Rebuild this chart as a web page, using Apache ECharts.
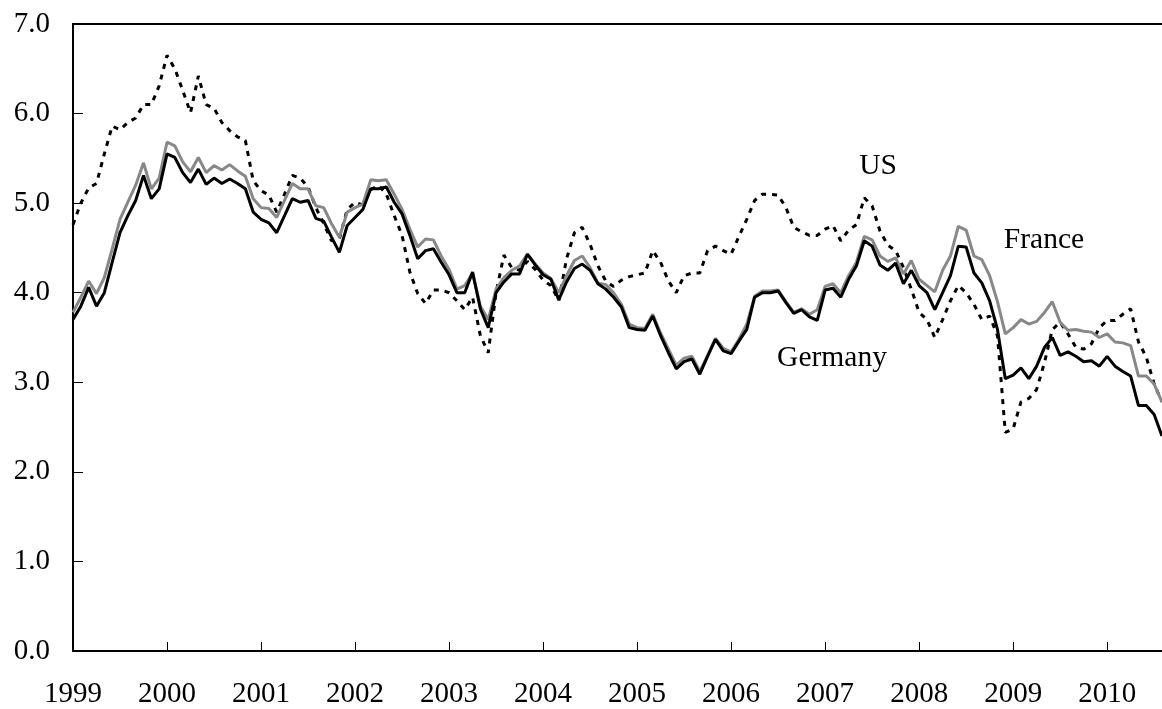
<!DOCTYPE html>
<html>
<head>
<meta charset="utf-8">
<script src="https://cdn.jsdelivr.net/npm/echarts@6/dist/echarts.min.js"></script>
<style>
html,body{margin:0;padding:0;background:#fff;}
#chart{width:1162px;height:709px;}
</style>
</head>
<body>
<div id="chart"></div>
<script>
// Monthly, Jan 1999 .. Aug 2010
var years = [1999,2000,2001,2002,2003,2004,2005,2006,2007,2008,2009,2010];
var monthsInLastYear = 8;
var months = [];
years.forEach(function(y, k){
  var n = (k === years.length - 1) ? monthsInLastYear : 12;
  for (var m = 1; m <= n; m++) months.push(y + '-' + (m < 10 ? '0' + m : m));
});

var germany = [
3.70,3.85,4.06,3.85,4.00,4.34,4.67,4.86,5.03,5.31,5.05,5.16,
5.55,5.51,5.34,5.23,5.38,5.21,5.28,5.22,5.27,5.22,5.16,4.90,
4.82,4.78,4.67,4.86,5.05,5.01,5.03,4.83,4.80,4.62,4.45,4.75,
4.84,4.93,5.16,5.16,5.18,5.01,4.88,4.64,4.38,4.47,4.49,4.34,
4.20,4.00,4.00,4.23,3.82,3.61,4.00,4.12,4.21,4.21,4.43,4.31,
4.20,4.15,3.92,4.12,4.27,4.32,4.25,4.10,4.04,3.95,3.84,3.61,
3.59,3.58,3.74,3.52,3.33,3.15,3.23,3.26,3.09,3.29,3.48,3.35,
3.32,3.46,3.59,3.95,4.00,4.00,4.02,3.89,3.77,3.81,3.73,3.69,
4.03,4.05,3.95,4.15,4.30,4.58,4.52,4.31,4.25,4.33,4.10,4.25,
4.08,4.00,3.81,4.00,4.19,4.52,4.51,4.22,4.11,3.91,3.59,3.04,
3.08,3.16,3.04,3.18,3.39,3.50,3.30,3.34,3.29,3.23,3.24,3.18,
3.29,3.18,3.12,3.07,2.74,2.74,2.64,2.40
];
var france = [
3.78,3.95,4.13,3.99,4.17,4.49,4.82,5.01,5.20,5.45,5.16,5.28,
5.68,5.64,5.46,5.35,5.51,5.34,5.42,5.37,5.43,5.36,5.30,5.05,
4.95,4.94,4.84,5.03,5.22,5.16,5.16,4.97,4.95,4.77,4.62,4.90,
4.95,4.99,5.26,5.25,5.26,5.10,4.93,4.71,4.51,4.60,4.59,4.41,
4.26,4.04,4.08,4.22,3.85,3.70,4.04,4.17,4.25,4.30,4.43,4.32,
4.22,4.16,4.00,4.19,4.36,4.41,4.28,4.11,4.09,4.00,3.87,3.65,
3.61,3.60,3.76,3.55,3.37,3.19,3.27,3.29,3.12,3.30,3.49,3.38,
3.34,3.48,3.65,3.96,4.02,4.02,4.03,3.90,3.78,3.82,3.76,3.81,
4.07,4.10,4.00,4.19,4.34,4.63,4.59,4.41,4.35,4.39,4.21,4.36,
4.15,4.08,4.01,4.25,4.41,4.74,4.70,4.41,4.37,4.19,3.90,3.54,
3.61,3.70,3.65,3.68,3.78,3.90,3.67,3.58,3.59,3.57,3.56,3.50,
3.54,3.45,3.44,3.41,3.07,3.07,2.98,2.78
];
var us = [
4.76,5.00,5.17,5.22,5.55,5.86,5.82,5.90,5.95,6.10,6.10,6.31,
6.65,6.50,6.26,6.01,6.42,6.10,6.06,5.90,5.81,5.74,5.70,5.25,
5.14,5.09,4.90,5.10,5.31,5.28,5.18,4.95,4.77,4.58,4.60,4.93,
5.01,4.98,5.15,5.20,5.10,4.86,4.64,4.23,3.99,3.88,4.03,4.03,
4.00,3.91,3.81,3.95,3.52,3.33,4.00,4.42,4.28,4.25,4.35,4.26,
4.14,4.08,3.91,4.38,4.67,4.73,4.54,4.30,4.13,4.07,4.14,4.18,
4.20,4.22,4.47,4.34,4.13,4.00,4.19,4.22,4.22,4.47,4.52,4.47,
4.43,4.63,4.82,5.03,5.10,5.10,5.09,4.95,4.73,4.68,4.64,4.64,
4.71,4.75,4.58,4.70,4.76,5.06,4.97,4.69,4.53,4.47,4.28,4.04,
3.78,3.70,3.50,3.70,3.91,4.08,4.00,3.87,3.70,3.74,3.52,2.44,
2.48,2.78,2.82,2.92,3.22,3.59,3.67,3.54,3.39,3.37,3.43,3.61,
3.69,3.69,3.76,3.82,3.45,3.28,2.98,2.78
];
var yTicks = [0,1,2,3,4,5,6,7];
var seriesNames = ['US','France','Germany'];

var FONT = "'Liberation Serif','Times New Roman',serif";
var chart = echarts.init(document.getElementById('chart'), null, {renderer:'canvas'});
chart.setOption({
  animation:false,
  backgroundColor:'#fff',
  grid:{left:73, top:24, width:1092, height:628, containLabel:false},
  xAxis:[{
    type:'category', data:months, boundaryGap:false,
    axisLine:{show:true, lineStyle:{color:'#000', width:2}},
    axisTick:{show:true, inside:true, length:9, interval:11, lineStyle:{color:'#000', width:1}},
    axisLabel:{show:true, interval:11, margin:29, color:'#000', fontFamily:FONT, fontSize:29,
      formatter:function(v){return v.substring(0,4);}},
    splitLine:{show:false}
  },{
    type:'category', data:months, boundaryGap:false, position:'top',
    axisLine:{show:true, onZero:false, lineStyle:{color:'#000', width:2}},
    axisTick:{show:false}, axisLabel:{show:false}, splitLine:{show:false}
  }],
  yAxis:{
    type:'value', min:yTicks[0], max:yTicks[yTicks.length-1], interval:1,
    axisLine:{show:true, lineStyle:{color:'#000', width:2}},
    axisTick:{show:true, inside:true, length:10, lineStyle:{color:'#000', width:1}},
    axisLabel:{margin:23, color:'#000', fontFamily:FONT, fontSize:29,
      formatter:function(v){return v.toFixed(1);}},
    splitLine:{show:false}
  },
  series:[
    {name:seriesNames[0], type:'line', data:us, symbol:'none', z:2,
      lineStyle:{color:'#000', width:3, type:[5,6], cap:'butt'}},
    {name:seriesNames[1], type:'line', data:france, symbol:'none', z:3,
      lineStyle:{color:'#888888', width:3}},
    {name:seriesNames[2], type:'line', data:germany, symbol:'none', z:4,
      lineStyle:{color:'#000', width:3}}
  ],
  graphic:[
    {type:'text', x:878, y:166, z:10, style:{text:seriesNames[0], font:'29.5px '+FONT, fill:'#000', align:'center', verticalAlign:'middle'}},
    {type:'text', x:1044, y:240, z:10, style:{text:seriesNames[1], font:'29.5px '+FONT, fill:'#000', align:'center', verticalAlign:'middle'}},
    {type:'text', x:832, y:358, z:10, style:{text:seriesNames[2], font:'29.5px '+FONT, fill:'#000', align:'center', verticalAlign:'middle'}}
  ]
});
</script>
</body>
</html>
